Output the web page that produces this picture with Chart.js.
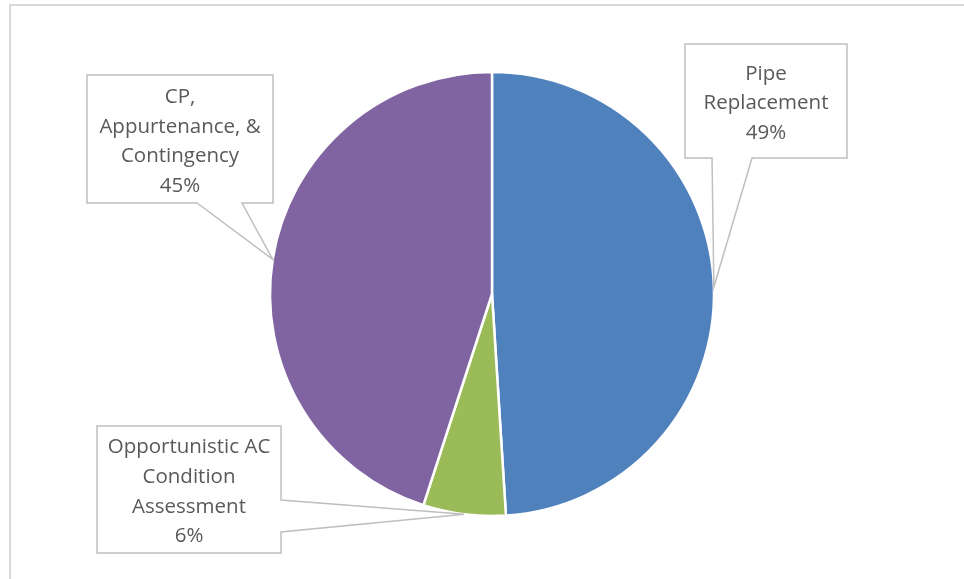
<!DOCTYPE html>
<html>
<head>
<meta charset="utf-8">
<script src="https://cdn.jsdelivr.net/npm/chart.js@4"></script>
<style>
    html, body { margin: 0; padding: 0; background: #ffffff; }
    #wrap { width: 964px; height: 579px; }
</style>
</head>
<body>
<div id="wrap"><canvas id="taartGrafiek" width="964" height="579"></canvas></div>
<script>
"use strict";

// De gegevens van de grafiek: categorieën, percentages en de tekstregels per label.
const categorieen = ["Pipe Replacement", "Opportunistic AC Condition Assessment", "CP, Appurtenance, & Contingency"];
const percentages = [49, 6, 45];
const labelRegels = [
    ["Pipe", "Replacement"],
    ["Opportunistic AC", "Condition", "Assessment"],
    ["CP,", "Appurtenance, &", "Contingency"]
];
const kleuren = ["#4f81bd", "#9bbb59", "#8064a2"];

// Plaats van de tekstkaders (met de punt die naar het taartstuk wijst).
const kaders = [
    { x: 685, y: 44, b: 162, h: 114, zijde: "onder", van: 712, tot: 752 },
    { x: 97, y: 426, b: 184, h: 127, zijde: "rechts", van: 500, tot: 532 },
    { x: 87, y: 75, b: 186, h: 128, zijde: "onder", van: 197, tot: 242 }
];

window.onload = function() {
    tekenGrafiek();
};

// Teken de grijze rand links en boven.
const randPlugin = {
    id: "rand",
    beforeDraw(chart) {
        const ctx = chart.ctx;
        ctx.save();
        ctx.strokeStyle = "#d9d9d9";
        ctx.lineWidth = 2;
        ctx.beginPath();
        ctx.moveTo(10, 579);
        ctx.lineTo(10, 5);
        ctx.lineTo(964, 5);
        ctx.stroke();
        ctx.restore();
    }
};

// Teken voor elk taartstuk een tekstkader met een punt naar het midden van de rand.
const kaderPlugin = {
    id: "kaders",
    afterDraw(chart) {
        const ctx = chart.ctx;
        const meta = chart.getDatasetMeta(0);
        ctx.save();
        meta.data.forEach((boog, i) => {
            const k = kaders[i];
            const hoek = (boog.startAngle + boog.endAngle) / 2;
            const puntX = boog.x + Math.cos(hoek) * boog.outerRadius;
            const puntY = boog.y + Math.sin(hoek) * boog.outerRadius;

            ctx.beginPath();
            ctx.moveTo(k.x, k.y);
            ctx.lineTo(k.x + k.b, k.y);
            if (k.zijde === "rechts") {
                ctx.lineTo(k.x + k.b, k.van);
                ctx.lineTo(puntX, puntY);
                ctx.lineTo(k.x + k.b, k.tot);
                ctx.lineTo(k.x + k.b, k.y + k.h);
                ctx.lineTo(k.x, k.y + k.h);
            } else {
                ctx.lineTo(k.x + k.b, k.y + k.h);
                ctx.lineTo(k.tot, k.y + k.h);
                ctx.lineTo(puntX, puntY);
                ctx.lineTo(k.van, k.y + k.h);
                ctx.lineTo(k.x, k.y + k.h);
            }
            ctx.closePath();
            ctx.fillStyle = "#ffffff";
            ctx.fill();
            ctx.strokeStyle = "#bfbfbf";
            ctx.lineWidth = 1.5;
            ctx.stroke();

            // Zet de tekstregels en het percentage midden in het kader.
            const regels = labelRegels[i].concat([percentages[i] + "%"]);
            const regelHoogte = 29.6;
            const grootte = 20.5;
            const midX = k.x + k.b / 2;
            const eersteMidden = k.y + k.h / 2 - (regels.length - 1) * regelHoogte / 2 + 1;
            ctx.fillStyle = "#595959";
            ctx.font = grootte + "px 'Open Sans'";
            ctx.textAlign = "center";
            ctx.textBaseline = "alphabetic";
            regels.forEach((regel, r) => {
                // Basislijn = midden van de hoofdletters + halve hoofdletterhoogte.
                ctx.fillText(regel, midX, eersteMidden + r * regelHoogte + grootte * 0.357);
            });
        });
        ctx.restore();
    }
};

function tekenGrafiek() {
    const canvas = document.getElementById("taartGrafiek").getContext("2d");
    new Chart(canvas, {
        type: "pie",
        data: {
            labels: categorieen,
            datasets: [{
                data: percentages,
                backgroundColor: kleuren,
                borderColor: "#ffffff",
                borderWidth: 2.5,
                radius: 222
            }]
        },
        options: {
            responsive: false,
            animation: false,
            layout: { padding: { left: 40, right: 20, top: 20, bottom: 11 } },
            plugins: {
                legend: { display: false },
                tooltip: { enabled: false }
            }
        },
        plugins: [randPlugin, kaderPlugin]
    });
}
</script>
</body>
</html>
